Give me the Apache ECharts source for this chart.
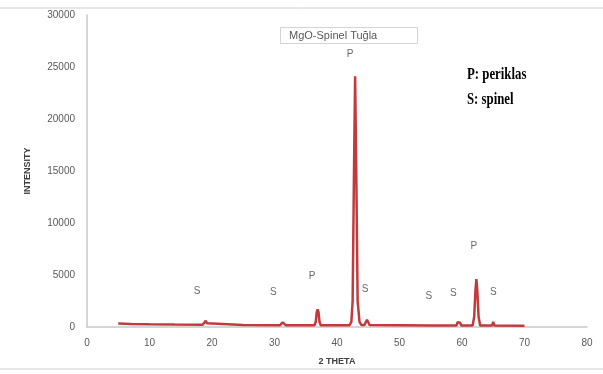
<!DOCTYPE html>
<html>
<head>
<meta charset="utf-8">
<script src="https://cdn.jsdelivr.net/npm/echarts@6/dist/echarts.min.js"></script>
<style>html,body{margin:0;padding:0;background:#fff}#c{width:603px;height:374px}</style>
</head>
<body>
<div id="c"></div>
<script>
const theta = [5.0, 7, 10, 14, 18.5, 18.8, 19.0, 19.2, 19.5, 25, 30.9, 31.1, 31.3, 31.5, 31.8,
  36.4, 36.6, 36.75, 36.9, 37.05, 37.2, 37.4, 42.0, 42.3, 42.5, 42.7, 42.9, 43.1, 43.3, 43.6, 43.9,
  44.4, 44.6, 44.8, 45.0, 45.2, 55.4, 55.6, 55.8, 59.1, 59.3, 59.5, 59.7, 59.9,
  61.7, 61.95, 62.15, 62.3, 62.45, 62.65, 62.9, 64.8, 65.0, 65.2, 70];
const intensity = [330, 300, 270, 240, 220, 350, 600, 350, 210, 190, 180, 330, 450, 300, 180,
  170, 500, 1400, 1700, 1400, 500, 170, 170, 500, 2500, 14000, 24100, 14000, 2500, 500, 200,
  200, 450, 700, 450, 190, 150, 260, 150, 150, 450, 600, 400, 150,
  150, 1000, 3500, 4600, 3500, 1000, 150, 140, 500, 140, 120];

// peak annotations: position (2theta, intensity) and label
const peakLabelX = [17.6, 29.8, 36.0, 42.1, 44.5, 54.7, 58.6, 61.9, 65.0];
const peakLabelY = [3460, 3370, 4900, 26250, 3650, 2980, 3270, 7790, 3370];
const peakLabelText = ['S', 'S', 'P', 'P', 'S', 'S', 'S', 'P', 'S'];

const xTicks = [0, 10, 20, 30, 40, 50, 60, 70, 80];
const yTicks = [0, 5000, 10000, 15000, 20000, 25000, 30000];

const seriesName = 'MgO-Spinel Tuğla';
const keyLines = ['P: periklas', 'S: spinel'];

const lineData = theta.map((t, i) => [t, intensity[i]]);
const labelData = peakLabelX.map((x, i) => ({ value: [x, peakLabelY[i]], name: peakLabelText[i] }));

const chart = echarts.init(document.getElementById('c'), null, { renderer: 'canvas' });
chart.setOption({
  animation: false,
  backgroundColor: '#fff',
  title: {
    text: seriesName,
    left: 280, top: 27,
    borderColor: '#d4d4d4', borderWidth: 1,
    padding: [3, 41, 3, 9],
    textStyle: { fontFamily: 'Liberation Sans', fontSize: 11, fontWeight: 'normal', color: '#595959' }
  },
  grid: { left: 87, right: 16, top: 15, bottom: 47 },
  xAxis: {
    type: 'value', min: xTicks[0], max: xTicks[xTicks.length - 1], interval: 10,
    name: '2 THETA', nameLocation: 'middle', nameGap: 30,
    nameTextStyle: { fontFamily: 'Liberation Sans', fontSize: 9, fontWeight: 'bold', color: '#404040' },
    axisLine: { lineStyle: { color: '#c8c8c8', width: 1.5 } },
    axisTick: { show: false },
    splitLine: { show: false },
    axisLabel: { margin: 11, fontFamily: 'Liberation Sans', fontSize: 10, color: '#595959' }
  },
  yAxis: {
    type: 'value', min: yTicks[0], max: yTicks[yTicks.length - 1], interval: 5000,
    name: 'INTENSITY', nameLocation: 'middle', nameGap: 55, nameRotate: 90,
    nameTextStyle: { fontFamily: 'Liberation Sans', fontSize: 9, fontWeight: 'bold', color: '#404040' },
    axisLine: { show: true, lineStyle: { color: '#c8c8c8', width: 1.5 } },
    axisTick: { show: false },
    splitLine: { show: false },
    axisLabel: { margin: 12, fontFamily: 'Liberation Sans', fontSize: 10, color: '#595959', formatter: v => String(v) }
  },
  series: [
    {
      type: 'line', name: seriesName, data: lineData,
      showSymbol: false, symbol: 'none',
      lineStyle: { color: '#c23a3c', width: 2.5 },
      z: 3
    },
    {
      type: 'scatter', data: labelData, symbolSize: 0, silent: true,
      label: {
        show: true, position: 'inside', formatter: p => p.name,
        fontFamily: 'Liberation Sans', fontSize: 10, color: '#444'
      },
      z: 4
    }
  ],
  graphic: [
    { type: 'line', shape: { x1: 0, y1: 8, x2: 603, y2: 8 }, style: { stroke: '#d0d0d0', lineWidth: 1 } },
    { type: 'line', shape: { x1: 0, y1: 369, x2: 603, y2: 369 }, style: { stroke: '#d0d0d0', lineWidth: 1 } },
    { type: 'text', x: 467, y: 67, scaleX: 0.8, style: { text: keyLines[0], fontFamily: 'Liberation Serif', fontSize: 16, fontWeight: 'bold', fill: '#000' } },
    { type: 'text', x: 467, y: 92, scaleX: 0.8, style: { text: keyLines[1], fontFamily: 'Liberation Serif', fontSize: 16, fontWeight: 'bold', fill: '#000' } }
  ]
});
</script>
</body>
</html>
